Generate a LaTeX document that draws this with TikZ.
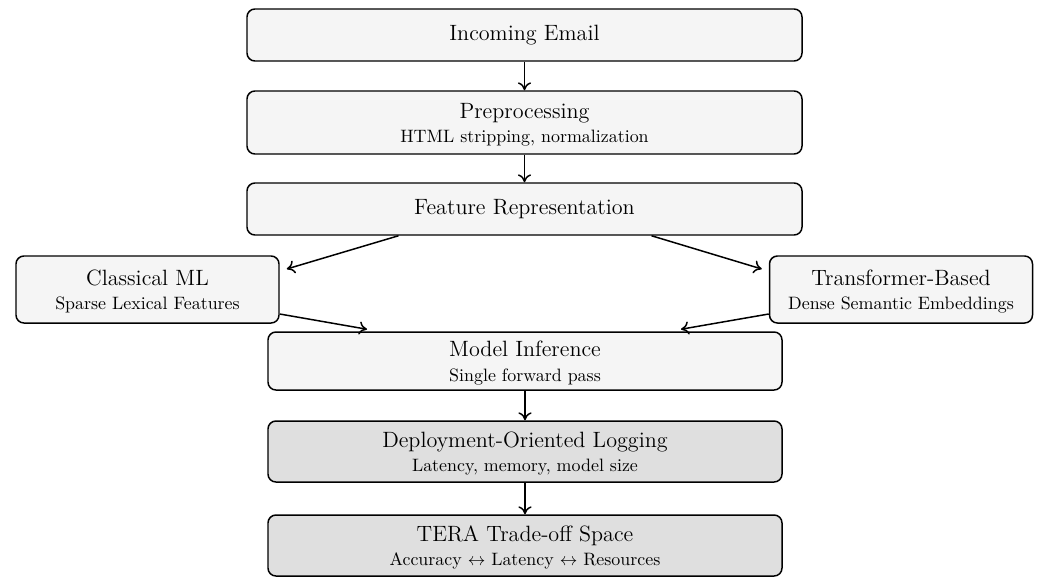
\documentclass[tikz,border=0pt]{standalone}
\usetikzlibrary{arrows.meta,calc}
\definecolor{boxfill}{HTML}{F5F5F5}
\definecolor{boxdark}{HTML}{DFDFDF}
\newcommand{\ttlfont}{\fontsize{12.6pt}{15pt}\selectfont}
\newcommand{\subfont}{\fontsize{10.2pt}{12.2pt}\selectfont}
\newcommand{\ttlstrut}{\rule{0pt}{11pt}}
\begin{document}
\begin{tikzpicture}[x=0.02cm,y=-0.02cm,
  box/.style={draw=black, line width=0.85pt, rounded corners=4.5pt, fill=boxfill, align=center, inner sep=0pt},
  darkbox/.style={box, fill=boxdark},
  arr/.style={-{To[length=4.5pt,width=7.5pt]}, line width=0.85pt}]
\useasboundingbox (0,0) rectangle (1038,578);
\node[box, minimum width=555*0.02cm, minimum height=52*0.02cm] (inc) at (524.5,35) {\ttlfont Incoming Email};
\node[box, minimum width=555*0.02cm, minimum height=63*0.02cm] (pre) at (524.5,122.5) {{\ttlfont\ttlstrut Preprocessing}\\[2pt] \subfont HTML stripping, normalization};
\node[box, minimum width=555*0.02cm, minimum height=52*0.02cm] (feat) at (524.5,209) {\ttlfont Feature Representation};
\node[box, minimum width=263*0.02cm, minimum height=67*0.02cm] (cls) at (147.5,289.5) {{\ttlfont\ttlstrut Classical ML}\\[2pt] \subfont Sparse Lexical Features};
\node[box, minimum width=263*0.02cm, minimum height=67*0.02cm] (trf) at (901,289.5) {{\ttlfont\ttlstrut Transformer-Based}\\[2pt] \subfont Dense Semantic Embeddings};
\node[box, minimum width=514*0.02cm, minimum height=58*0.02cm] (inf) at (525,361) {{\ttlfont\ttlstrut Model Inference}\\[2pt] \subfont Single forward pass};
\node[darkbox, minimum width=514*0.02cm, minimum height=61*0.02cm] (dep) at (525,451.5) {{\ttlfont\ttlstrut Deployment-Oriented Logging}\\[2pt] \subfont Latency, memory, model size};
\node[darkbox, minimum width=514*0.02cm, minimum height=61*0.02cm] (tera) at (525,545.5) {{\ttlfont\ttlstrut TERA Trade-off Space}\\[2pt] \subfont Accuracy $\leftrightarrow$ Latency $\leftrightarrow$ Resources};
\draw[arr] (inc.south) -- (pre.north);
\draw[arr] (pre.south) -- (feat.north);
\draw[arr] ($(feat.south)+(-126,0)$) -- ($(cls.east)+(7,-20.5)$);
\draw[arr] ($(feat.south)+(127,0)$) -- ($(trf.west)+(-7,-20.5)$);
\draw[arr] ($(cls.east)+(0,24.5)$) -- ($(inf.north)+(-158,-2)$);
\draw[arr] ($(trf.west)+(0,24.5)$) -- ($(inf.north)+(156,-2)$);
\draw[arr] (inf.south) -- (dep.north);
\draw[arr] (dep.south) -- (tera.north);
\end{tikzpicture}
\end{document}
